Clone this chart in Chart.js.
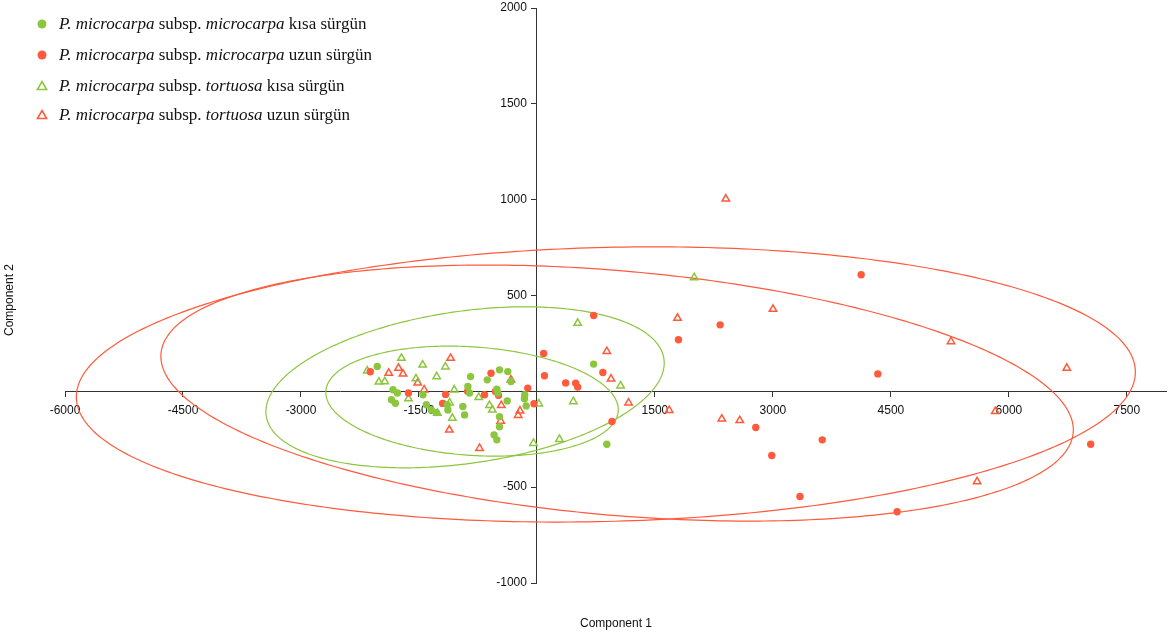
<!DOCTYPE html>
<html>
<head>
<meta charset="utf-8">
<script src="https://cdn.jsdelivr.net/npm/chart.js@4.4.0/dist/chart.umd.min.js"></script>
<style>
  html, body { margin: 0; padding: 0; background: #fff; }
  #wrap { width: 1172px; height: 637px; }
</style>
</head>
<body>
<div id="wrap"><canvas id="chart" width="1172" height="637"></canvas></div>
<script>
const GREEN = '#8cc63f';
const RED = '#ff5a3c';

// axis ticks (origin left unlabelled)
const xTickValues = [-6000, -4500, -3000, -1500, 1500, 3000, 4500, 6000, 7500];
const yTickValues = [-1000, -500, 500, 1000, 1500, 2000];

// P. microcarpa subsp. microcarpa - kısa sürgün
const microKisa = [
  [-2030, 130], [-1830, 8], [-1774, -9], [-1850, -44], [-1799, -62], [-1449, -18],
  [-1406, -70], [-1343, -97], [-1279, -111], [-1140, -70], [-1132, -97], [-844, 77],
  [-878, 25], [-857, -9], [-942, -79], [-920, -123], [-632, 60], [-476, 112],
  [-371, 103], [-510, 11], [-497, -9], [-378, -50], [-331, 51], [-155, -18],
  [-159, -39], [-137, -76], [-476, -132], [-476, -185], [-546, -227], [-510, -253],
  [721, 142], [888, -276]
];
// P. microcarpa subsp. microcarpa - uzun sürgün
const microUzun = [
  [-2119, 102], [-1634, -9], [-1161, -16], [-1199, -63], [-882, 0], [-666, -18],
  [-584, 94], [-527, -1], [-489, -21], [-117, 17], [-38, -65], [85, 198], [95, 81],
  [365, 44], [492, 43], [518, 22], [721, 396], [838, 98], [954, -157], [1799, 269],
  [2329, 347], [2782, -189], [2985, -335], [3344, -549], [3627, -253], [4122, 608],
  [4334, 91], [4579, -628], [7040, -276]
];
// P. microcarpa subsp. tortuosa - kısa sürgün
const tortKisa = [
  [-2157, 107], [-2009, 49], [-1935, 51], [-1723, 173], [-1453, 138], [-1538, 66],
  [-1275, 77], [-1164, 128], [-1051, 8], [-1633, -38], [-1266, -114], [-1110, -60],
  [-1075, -140], [-740, -31], [-603, -73], [-567, -97], [23, -65], [-44, -271],
  [286, -250], [463, -53], [1063, 29], [518, 356], [1999, 594]
];
// P. microcarpa subsp. tortuosa - uzun sürgün
const tortUzun = [
  [-1098, 173], [-1760, 121], [-1884, 95], [-1703, 91], [-1516, 44], [-1433, 8],
  [-1114, -201], [-730, -297], [-453, -73], [-461, -155], [-330, 60], [-216, -102],
  [-239, -125], [888, 208], [942, 65], [1165, -60], [1681, -99], [1787, 382],
  [2350, -144], [2579, -152], [2401, 1004], [3001, 429], [5264, 260], [5596, -471],
  [5827, -105], [6736, 121]
];

// group ellipses: centre, half extents, y offset at the right-most point
const ellipseCx = [876, 1019, -914, -825];
const ellipseCy = [36, -9, 21, -51];
const ellipseRx = [6732, 5800, 2532, 1859];
const ellipseRy = [718, 668, 420, 287];
const ellipseTilt = [65, -192, 127, -45];
const ellipseColor = [RED, RED, GREEN, GREEN];

// legend
const legendSubsp = ['microcarpa', 'microcarpa', 'tortuosa', 'tortuosa'];
const legendShoot = ['kısa sürgün', 'uzun sürgün', 'kısa sürgün', 'uzun sürgün'];
const legendColor = [GREEN, RED, GREEN, RED];
const legendStyle = ['circle', 'circle', 'triangle', 'triangle'];

const SANS = '"Liberation Sans", Arial, sans-serif';
const toPoints = arr => arr.map(([x, y]) => ({ x, y }));

const overlay = {
  id: 'overlay',
  beforeDatasetsDraw(chart) {
    const { ctx, scales: { x, y } } = chart;
    ctx.save();
    ctx.lineWidth = 1.2;
    ellipseCx.forEach((cx, i) => {
      const phi = Math.acos(ellipseTilt[i] / ellipseRy[i]);
      ctx.beginPath();
      for (let k = 0; k <= 360; k++) {
        const t = k * Math.PI / 180;
        const px = x.getPixelForValue(cx + ellipseRx[i] * Math.cos(t));
        const py = y.getPixelForValue(ellipseCy[i] + ellipseRy[i] * Math.cos(t + phi));
        if (k === 0) ctx.moveTo(px, py); else ctx.lineTo(px, py);
      }
      ctx.closePath();
      ctx.strokeStyle = ellipseColor[i];
      ctx.stroke();
    });
    ctx.restore();
  },
  afterDraw(chart) {
    const { ctx, scales: { x, y } } = chart;
    ctx.save();
    ctx.fillStyle = '#111';
    ctx.font = '12px ' + SANS;
    // y tick labels sit left of the tick marks
    const axisX = x.getPixelForValue(0);
    ctx.textAlign = 'right';
    ctx.textBaseline = 'middle';
    yTickValues.forEach(v => ctx.fillText(String(v), axisX - 10, y.getPixelForValue(v)));
    // axis titles
    ctx.textAlign = 'center';
    ctx.fillText('Component 1', 616, 624);
    ctx.translate(10, 300);
    ctx.rotate(-Math.PI / 2);
    ctx.fillText('Component 2', 0, 0);
    ctx.restore();

    // legend with mixed italic text
    ctx.save();
    ctx.textBaseline = 'middle';
    ctx.textAlign = 'left';
    const rowY = [24, 55, 86, 115];
    legendSubsp.forEach((sub, i) => {
      const ry = rowY[i];
      const mx = 42;
      ctx.fillStyle = legendColor[i];
      ctx.strokeStyle = legendColor[i];
      if (legendStyle[i] === 'circle') {
        ctx.beginPath();
        ctx.arc(mx, ry, 4.5, 0, Math.PI * 2);
        ctx.fill();
      } else {
        ctx.lineWidth = 1.6;
        ctx.beginPath();
        ctx.moveTo(mx, ry - 4.5);
        ctx.lineTo(mx + 4.6, ry + 3.5);
        ctx.lineTo(mx - 4.6, ry + 3.5);
        ctx.closePath();
        ctx.stroke();
      }
      const parts = [['P. microcarpa', true], [' subsp. ', false], [sub, true], [' ' + legendShoot[i], false]];
      let tx = 59;
      ctx.fillStyle = '#111';
      parts.forEach(([txt, ital]) => {
        ctx.font = (ital ? 'italic ' : '') + '17px "Liberation Serif", "Times New Roman", serif';
        ctx.fillText(txt, tx, ry + 1);
        tx += ctx.measureText(txt).width;
      });
    });
    ctx.restore();
  }
};

const tickFont = { family: SANS, size: 12, lineHeight: 1 };

new Chart(document.getElementById('chart'), {
  type: 'scatter',
  data: {
    datasets: [
      { label: 'microcarpa kısa', data: toPoints(microKisa), pointStyle: 'circle', pointRadius: 3.7,
        backgroundColor: GREEN, borderColor: GREEN, borderWidth: 0 },
      { label: 'microcarpa uzun', data: toPoints(microUzun), pointStyle: 'circle', pointRadius: 3.7,
        backgroundColor: RED, borderColor: RED, borderWidth: 0 },
      { label: 'tortuosa kısa', data: toPoints(tortKisa), pointStyle: 'triangle', pointRadius: 4.3,
        backgroundColor: 'rgba(255,255,255,0)', borderColor: GREEN, borderWidth: 1.5 },
      { label: 'tortuosa uzun', data: toPoints(tortUzun), pointStyle: 'triangle', pointRadius: 4.3,
        backgroundColor: 'rgba(255,255,255,0)', borderColor: RED, borderWidth: 1.5 },
    ],
  },
  options: {
    responsive: false,
    animation: false,
    layout: { padding: { left: 65, right: 4, top: 8, bottom: 54 } },
    plugins: { legend: { display: false }, tooltip: { enabled: false } },
    elements: { point: { hoverRadius: 4 } },
    scales: {
      x: {
        type: 'linear',
        min: -6000,
        max: 8000,
        position: { y: 0 },
        afterBuildTicks: s => { s.ticks = xTickValues.map(v => ({ value: v })); },
        grid: { drawOnChartArea: false, drawTicks: true, tickLength: 5, color: '#333' },
        border: { display: true, color: '#333', width: 1 },
        ticks: { color: '#111', font: tickFont, padding: 8, maxRotation: 0, autoSkip: false,
                 callback: v => String(v) },
      },
      y: {
        type: 'linear',
        min: -1000,
        max: 2000,
        position: { x: 0 },
        afterBuildTicks: s => { s.ticks = yTickValues.map(v => ({ value: v })); },
        grid: { drawOnChartArea: false, drawTicks: true, tickLength: 5, color: '#333' },
        border: { display: true, color: '#333', width: 1 },
        ticks: { display: false, font: tickFont },
      },
    },
  },
  plugins: [overlay],
});
</script>
</body>
</html>
